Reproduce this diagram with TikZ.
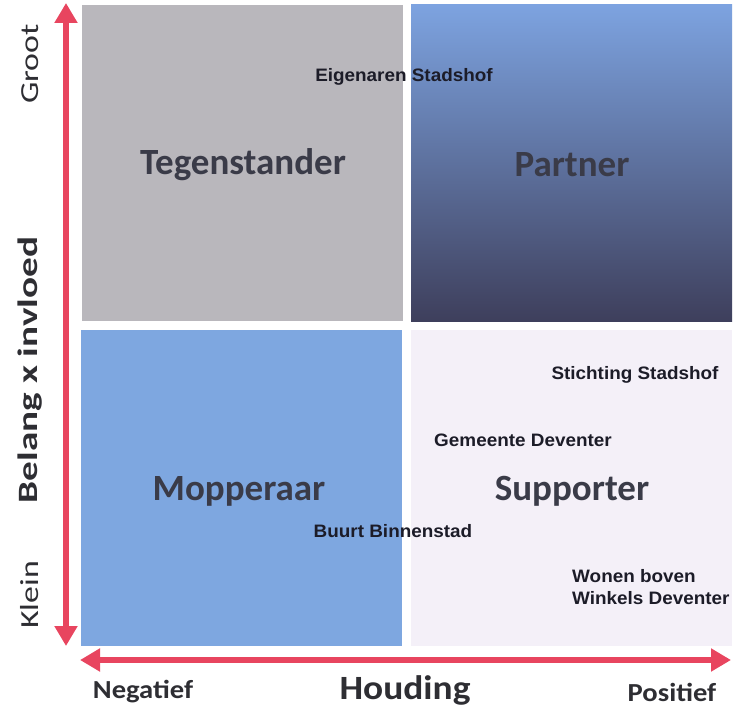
\documentclass[tikz,border=0pt]{standalone}
\usepackage{fontspec}
\setmainfont{Carlito}
\newfontfamily\arialfont{Liberation Sans}
\usetikzlibrary{arrows.meta}
\definecolor{greyq}{HTML}{B9B7BC}
\definecolor{blueq}{HTML}{7EA7E0}
\definecolor{partnertop}{HTML}{7DA3E0}
\definecolor{partnermid}{HTML}{6680BE}
\definecolor{partnerbot}{HTML}{3E3F5C}
\definecolor{lightq}{HTML}{F4F0F8}
\definecolor{arrowred}{HTML}{E8455F}
\definecolor{qtext}{HTML}{3A3B48}
\definecolor{axtext}{HTML}{2E2E33}
\definecolor{smalltext}{HTML}{1C1C28}
\tikzset{
  quad/.style={inner sep=0pt, minimum width=321pt, minimum height=316pt},
  qlabel/.style={inner sep=0pt, font=\fontsize{37}{40}\selectfont\bfseries, text=qtext},
  small/.style={font=\arialfont\fontsize{18}{22}\selectfont\bfseries, text=smalltext, inner sep=0pt},
  axis/.style={draw=arrowred, line width=6.5pt, {Triangle[width=22pt,length=20pt]}-{Triangle[width=22pt,length=20pt]}},
  axlabel/.style={font=\fontsize{26}{30}\selectfont, text=axtext, inner sep=0pt},
}
\begin{document}
\begin{tikzpicture}[x=1pt,y=-1pt]
\useasboundingbox (0,0) rectangle (734,709);
\fill[white] (0,0) rectangle (734,709);
% quadrants
\node[quad, fill=greyq] (teg) at (242.5,163) {};
\node[quad, top color=partnertop, middle color=partnermid, bottom color=partnerbot] (par) at (571.5,163) {};
\node[quad, fill=blueq] (mop) at (241,487.5) {};
\node[quad, fill=lightq] (sup) at (571,487.5) {};
% quadrant labels
\node[qlabel] (tegl) at (243,165) {Tegenstander};
\node[qlabel] (parl) at (572,165) {Partner};
\node[qlabel] (mopl) at (239,491) {Mopperaar};
\node[qlabel] (supl) at (572,491) {Supporter};
% stakeholder labels
\node[small] (eig) at (404,77) {\scalebox{1.05}[1]{Eigenaren Stadshof}};
\node[small] (sti) at (635,375) {\scalebox{1.05}[1]{Stichting Stadshof}};
\node[small] (gem) at (523,440) {\scalebox{1.05}[1]{Gemeente Deventer}};
\node[small] (buu) at (393,531) {\scalebox{1.05}[1]{Buurt Binnenstad}};
\node[small, anchor=west] (won1) at (572,576) {\scalebox{1.05}[1]{Wonen boven}};
\node[small, anchor=west] (won2) at (572,598) {\scalebox{1.05}[1]{Winkels Deventer}};
% axes
\coordinate (vtop) at (66,3);
\coordinate (vbot) at (66,646);
\coordinate (hl) at (80,660);
\coordinate (hr) at (731,660);
\draw[axis] (vbot) -- (vtop);
\draw[axis] (hl) -- (hr);
% axis labels
\node[axlabel, rotate=90] (groot) at (30,64) {\scalebox{1.3}[1]{Groot}};
\node[axlabel, rotate=90, font=\fontsize{28}{32}\selectfont\bfseries] (bel) at (30,370) {\scalebox{1.4}[1]{Belang x invloed}};
\node[axlabel, rotate=90] (klein) at (30,595) {\scalebox{1.3}[1]{Klein}};
\node[axlabel, font=\fontsize{26}{30}\selectfont\bfseries] (neg) at (143,692) {\scalebox{1.1}[1]{Negatief}};
\node[axlabel, font=\fontsize{34}{38}\selectfont\bfseries] (hou) at (405,690) {\scalebox{1.1}[1]{Houding}};
\node[axlabel, font=\fontsize{26}{30}\selectfont\bfseries] (pos) at (672,692) {\scalebox{1.1}[1]{Positief}};
\end{tikzpicture}
\end{document}
